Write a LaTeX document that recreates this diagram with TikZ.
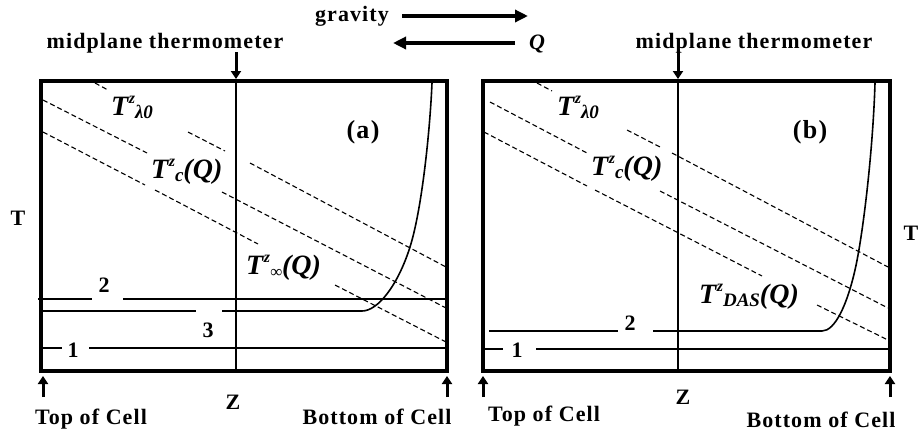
\documentclass[tikz,border=0pt]{standalone}
\usepackage{fontspec}
\setmainfont{Liberation Serif}
\newfontfamily\spaced{Liberation Serif}[LetterSpace=5]
\usetikzlibrary{arrows.meta}
\newcommand\Tlab[2]{{\fontsize{28}{28}\selectfont\bfseries\itshape T\kern0.5pt\raisebox{0.4em}{\fontsize{16}{16}\selectfont z}\raisebox{-0.12em}{\fontsize{19}{19}\selectfont #1}#2}}
\tikzset{
  frame/.style={line width=4pt},
  vline/.style={line width=1.5pt},
  hline/.style={line width=1.6pt},
  hthick/.style={line width=2.2pt},
  dline/.style={line width=1.1pt, dash pattern=on 5pt off 3pt},
  lbl/.style={font=\fontsize{22}{22}\selectfont\spaced\bfseries, inner sep=0pt, anchor=base},
  num/.style={font=\fontsize{22}{22}\selectfont\bfseries, inner sep=0pt, anchor=base},
  tlab/.style={inner sep=0pt, anchor=base west},
  bigarrow/.style={line width=4pt, -{Triangle[length=13pt,width=12pt]}},
  smallarrow/.style={line width=3pt, -{Triangle[length=8pt,width=10pt]}}
}
\begin{document}
\begin{tikzpicture}[x=1pt,y=-1pt]
\useasboundingbox (0,0) rectangle (919,432);
% ---------- top legend ----------
\node[lbl] (grav) at (352,21) {gravity};
\coordinate (g1) at (402,16);
\coordinate (g2) at (528,16);
\draw[bigarrow] (g1) -- (g2);
\coordinate (q1) at (515,43);
\coordinate (q2) at (393,43);
\draw[bigarrow] (q1) -- (q2);
\node[font=\fontsize{22}{22}\selectfont\bfseries\itshape, inner sep=0pt, anchor=base] (qlab) at (537,49) {Q};
% ================= panel (a) =================
\node[lbl] (mta) at (165,48) {midplane thermometer};
\coordinate (ma1) at (236,52);
\coordinate (ma2) at (236,79);
\draw[smallarrow] (ma1) -- (ma2);
\draw[vline] (236,81) -- (236,370);
% dashed lines
\draw[dline] (95,83) -- (108,90);
\draw[dline] (188,132) -- (225,151);
\draw[dline] (250,163) -- (446,267);
\draw[dline] (43,100) -- (147,153);
\draw[dline] (222,192) -- (446,308);
\draw[dline] (43,132) -- (145,185);
\draw[dline] (155,190) -- (258,244);
\draw[dline] (335,285) -- (446,342);
% horizontal lines
\draw[hline] (42,348) -- (62,348);
\draw[hline] (89,348) -- (446,348);
\draw[hthick] (38,299) -- (92,299);
\draw[hthick] (123,299) -- (446,299);
\draw[hline] (42,311) -- (196,311);
\draw[hline] (222,311) -- (362,311) .. controls (378,311) and (398,285) .. (410,247) .. controls (422,209) and (430,130) .. (432,83);
% frame
\draw[frame] (40.5,81) rectangle (447,370.5);
% labels
\node[num] (a1) at (73,357) {1};
\node[num] (a2) at (104,292) {2};
\node[num] (a3) at (208,337) {3};
\node[tlab] (al0) at (111,115) {\Tlab{λ0}{}};
\node[tlab] (ac) at (151,178) {\Tlab{c}{(Q)}};
\node[tlab] (ainf) at (246,274) {\Tlab{\fontsize{17}{17}\selectfont ∞}{(Q)}};
\node[font=\fontsize{26}{26}\selectfont\spaced\bfseries, inner sep=0pt, anchor=base] (apan) at (363,138) {(a)};
\node[lbl] (aT) at (18,225) {T};
\node[lbl] (aZ) at (233,409) {Z};
\node[lbl] (atop) at (91,424) {Top of Cell};
\node[lbl] (abot) at (377,424) {Bottom of Cell};
\coordinate (at1) at (43,397);
\coordinate (at2) at (43,376);
\draw[smallarrow] (at1) -- (at2);
\coordinate (ab1) at (447,397);
\coordinate (ab2) at (447,376);
\draw[smallarrow] (ab1) -- (ab2);
% ================= panel (b) =================
\node[lbl] (mtb) at (754,48) {midplane thermometer};
\coordinate (mb1) at (678,52);
\coordinate (mb2) at (678,79);
\draw[smallarrow] (mb1) -- (mb2);
\draw[vline] (678,81) -- (678,370);
% dashed lines
\draw[dline] (537,83) -- (552,91);
\draw[dline] (627,130) -- (662,148);
\draw[dline] (672,153) -- (888,267);
\draw[dline] (490,102) -- (587,153);
\draw[dline] (660,191) -- (888,308);
\draw[dline] (484,132) -- (587,186);
\draw[dline] (595,190) -- (762,276);
\draw[dline] (817,305) -- (888,340);
% horizontal lines
\draw[hline] (484,349) -- (503,349);
\draw[hline] (536,349) -- (888,349);
\draw[hline] (489,331) -- (618,331);
\draw[hline] (653,331) -- (822,331) .. controls (835,331) and (847,305) .. (855,270) .. controls (863,235) and (873,150) .. (875,83);
% frame
\draw[frame] (482.5,81) rectangle (889.5,370.5);
% labels
\node[num] (b1) at (517,357) {1};
\node[num] (b2) at (630,330) {2};
\node[tlab] (bl0) at (557,115) {\Tlab{λ0}{}};
\node[tlab] (bc) at (591,175) {\Tlab{c}{(Q)}};
\node[tlab] (bdas) at (699,303) {\Tlab{DAS}{(Q)}};
\node[font=\fontsize{26}{26}\selectfont\spaced\bfseries, inner sep=0pt, anchor=base] (bpan) at (810,138) {(b)};
\node[lbl] (bT) at (911,240) {T};
\node[lbl] (bZ) at (683,404) {Z};
\node[lbl] (btop) at (544,421) {Top of Cell};
\node[lbl] (bbot) at (821,427) {Bottom of Cell};
\coordinate (bt1) at (483,397);
\coordinate (bt2) at (483,376);
\draw[smallarrow] (bt1) -- (bt2);
\coordinate (bb1) at (890,397);
\coordinate (bb2) at (890,376);
\draw[smallarrow] (bb1) -- (bb2);
\end{tikzpicture}
\end{document}
